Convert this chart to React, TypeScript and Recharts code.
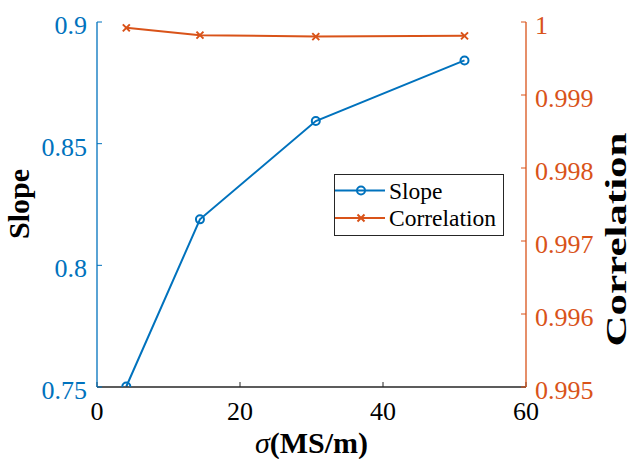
import React from "react";
import { LineChart, Line, XAxis, YAxis } from "recharts";

// Conductivity (MS/m) and the fitted slope / correlation at each level
const sigma = [4.1, 14.4, 30.6, 51.4];
const slope = [0.7502, 0.8189, 0.8593, 0.8842];
const correlation = [0.99992, 0.99982, 0.9998, 0.99981];

const xTicks = [0, 20, 40, 60];
const slopeTicks = [0.75, 0.8, 0.85, 0.9];
const corrTicks = [0.995, 0.996, 0.997, 0.998, 0.999, 1];

const BLUE = "#0072BD";
const ORANGE = "#D95319";
const INK = "#262626";
const FONT = "Liberation Serif";

const data = sigma.map((s, i) => ({ sigma: s, slope: slope[i], correlation: correlation[i] }));

const AxisTick = (props: any) => {
  const { x, y, payload, color, anchor, shift } = props;
  return (
    <text
      x={x}
      y={y + shift}
      textAnchor={anchor}
      fill={color}
      fontSize={26}
      fontFamily={FONT}
      style={{ fontFamily: FONT }}
    >
      {String(payload.value)}
    </text>
  );
};

const CrossDot = (props: any) => {
  const { cx, cy } = props;
  if (cx == null || cy == null) return null;
  const s = 3.5;
  return (
    <path
      d={`M${cx - s},${cy - s}L${cx + s},${cy + s}M${cx - s},${cy + s}L${cx + s},${cy - s}`}
      stroke={ORANGE}
      strokeWidth={2}
      fill="none"
    />
  );
};

const XTitle = (props: any) => {
  const { x, y, width } = props.viewBox;
  return (
    <text x={x + width / 2} y={y + 66} textAnchor="middle" fontFamily={FONT} fontSize={30} fontWeight="bold" fill="#000">
      <tspan fontStyle="italic" fontWeight="normal">σ</tspan>
      <tspan>(MS/m)</tspan>
    </text>
  );
};

const LeftTitle = (props: any) => {
  const { x, y, height } = props.viewBox;
  const cx = x + 29;
  const cy = y + height / 2 - 0.5;
  return (
    <text
      x={cx}
      y={cy}
      transform={`rotate(-90, ${cx}, ${cy})`}
      textAnchor="middle"
      fontFamily={FONT}
      fontSize={30}
      fontWeight="bold"
      fill="#000"
    >
      Slope
    </text>
  );
};

const RightTitle = (props: any) => {
  const { x, y, height } = props.viewBox;
  const cx = x + 100;
  const cy = y + height / 2 + 35;
  return (
    <text
      x={cx}
      y={cy}
      transform={`rotate(-90, ${cx}, ${cy})`}
      textAnchor="middle"
      fontFamily={FONT}
      fontSize={29}
      fontWeight="bold"
      fill="#000"
      textLength={214}
      lengthAdjust="spacingAndGlyphs"
    >
      Correlation
    </text>
  );
};

const LegendBox = () => (
  <div
    style={{
      position: "absolute",
      left: 334,
      top: 174,
      width: 170,
      height: 62,
      border: "1px solid #262626",
      background: "#fff",
      boxSizing: "border-box",
    }}
  >
    <svg width={170} height={62} style={{ position: "absolute", left: -1, top: -1 }}>
      <line x1={1} x2={51} y1={16.5} y2={16.5} stroke={BLUE} strokeWidth={2} />
      <circle cx={27} cy={16.5} r={4} fill="none" stroke={BLUE} strokeWidth={2} />
      <line x1={1} x2={51} y1={44} y2={44} stroke={ORANGE} strokeWidth={2} />
      <CrossDot cx={27} cy={44} />
      <text x={55} y={24.5} fontFamily={FONT} fontSize={23.5} fill="#000">Slope</text>
      <text x={55} y={52} fontFamily={FONT} fontSize={23.5} fill="#000">Correlation</text>
    </svg>
  </div>
);

export default function App() {
  return (
    <div
      style={{ position: "absolute", left: 0, top: 0, width: 632, height: 459, background: "#fff", fontFamily: FONT }}
    >
      <LineChart
        width={632}
        height={459}
        data={data}
        margin={{ top: 22, right: 0, bottom: 0, left: 0 }}
        style={{ fontFamily: FONT }}
      >
        <XAxis
          dataKey="sigma"
          type="number"
          domain={[0, 60]}
          ticks={xTicks}
          height={72}
          fontFamily={FONT}
          fontSize={26}
          axisLine={{ stroke: INK, strokeWidth: 1.3 }}
          tickLine={{ stroke: INK }}
          tickSize={-5}
          tickMargin={19}
          tick={<AxisTick color="#000" anchor="middle" shift={18.5} />}
          label={<XTitle />}
        />
        <YAxis
          yAxisId="l"
          orientation="left"
          type="number"
          domain={[0.75, 0.9]}
          allowDataOverflow
          ticks={slopeTicks}
          width={97}
          fontFamily={FONT}
          fontSize={26}
          axisLine={{ stroke: BLUE, strokeWidth: 1.3 }}
          tickLine={{ stroke: BLUE }}
          tickSize={-5}
          tickMargin={15}
          tick={<AxisTick color={BLUE} anchor="end" shift={12} />}
          label={<LeftTitle />}
        />
        <YAxis
          yAxisId="r"
          orientation="right"
          type="number"
          domain={[0.995, 1]}
          allowDataOverflow
          ticks={corrTicks}
          width={106}
          fontFamily={FONT}
          fontSize={26}
          axisLine={{ stroke: ORANGE, strokeWidth: 1.3 }}
          tickLine={{ stroke: ORANGE }}
          tickSize={-5}
          tickMargin={14}
          tick={<AxisTick color={ORANGE} anchor="start" shift={12} />}
          label={<RightTitle />}
        />
        <Line
          yAxisId="l"
          dataKey="slope"
          stroke={BLUE}
          strokeWidth={2}
          dot={{ r: 4, fill: "none", stroke: BLUE, strokeWidth: 2 }}
          isAnimationActive={false}
        />
        <Line
          yAxisId="r"
          dataKey="correlation"
          stroke={ORANGE}
          strokeWidth={2}
          dot={<CrossDot />}
          isAnimationActive={false}
        />
      </LineChart>
      <LegendBox />
    </div>
  );
}
